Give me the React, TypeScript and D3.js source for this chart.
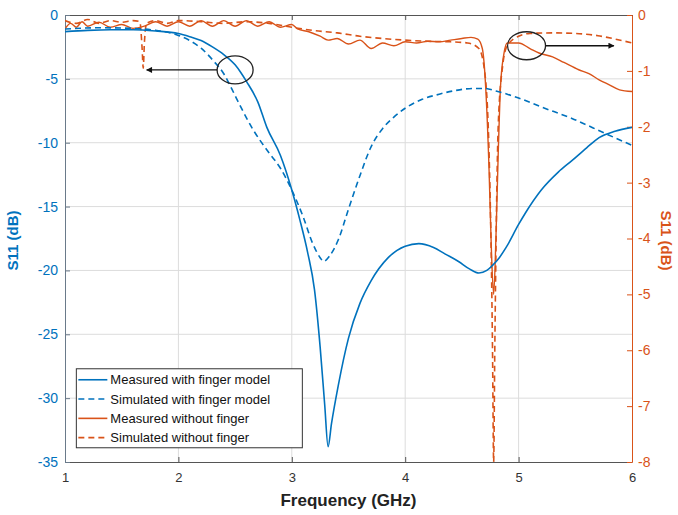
import * as d3 from "d3"
import { useEffect, useRef } from "react"

// frequency (GHz) / S11 (dB)
const measFingerF = [1.0, 1.2, 1.4, 1.6, 1.8, 2.0, 2.1, 2.2, 2.3, 2.4, 2.5, 2.55, 2.6, 2.7, 2.78, 2.9, 3.0, 3.07, 3.14, 3.2, 3.25, 3.29, 3.32, 3.35, 3.41, 3.5, 3.6, 3.7, 3.85, 4.0, 4.12, 4.25, 4.35, 4.47, 4.57, 4.65, 4.72, 4.77, 4.83, 4.89, 5.0, 5.06, 5.2, 5.35, 5.47, 5.6, 5.71, 5.85, 6.0]
const measFingerS = [-1.3, -1.2, -1.15, -1.15, -1.25, -1.45, -1.7, -2.0, -2.5, -3.1, -3.9, -4.5, -5.2, -6.8, -8.8, -11.0, -13.7, -16, -18.6, -21.5, -26, -30.5, -33.8, -32, -29, -25.3, -22.6, -20.8, -19.0, -18.1, -17.9, -18.2, -18.7, -19.3, -19.9, -20.2, -20.0, -19.6, -19, -18.2, -16.4, -15.5, -13.7, -12.3, -11.4, -10.4, -9.6, -9.1, -8.8]

const simFingerF = [1.0, 1.3, 1.6, 1.8, 2.0, 2.1, 2.2, 2.31, 2.4, 2.46, 2.55, 2.66, 2.8, 2.9, 3.01, 3.1, 3.18, 3.25, 3.28, 3.33, 3.41, 3.5, 3.6, 3.7, 3.8, 3.9, 4.0, 4.15, 4.3, 4.45, 4.6, 4.7, 4.8, 4.9, 5.0, 5.2, 5.47, 5.77, 6.0]
const simFingerS = [-1.1, -1.0, -1.05, -1.2, -1.6, -2.0, -2.6, -3.6, -4.6, -5.6, -7.2, -9.0, -10.8, -12.0, -13.9, -15.8, -17.8, -19.0, -19.3, -18.9, -17.6, -15.2, -12.6, -10.3, -8.9, -8.0, -7.3, -6.6, -6.2, -5.9, -5.75, -5.75, -5.95, -6.2, -6.5, -7.2, -8.1, -9.3, -10.2]

const measFreeF = [1.0, 1.05, 1.1, 1.15, 1.2, 1.3, 1.4, 1.5, 1.6, 1.7, 1.8, 1.9, 2.0, 2.1, 2.2, 2.3, 2.4, 2.5, 2.6, 2.7, 2.8, 2.9, 3.0, 3.05, 3.15, 3.25, 3.32, 3.4, 3.5, 3.6, 3.7, 3.8, 3.9, 4.0, 4.1, 4.2, 4.3, 4.4, 4.5, 4.58, 4.64, 4.68, 4.71, 4.74, 4.76, 4.78, 4.8, 4.82, 4.84, 4.87, 4.9, 5.0, 5.1, 5.18, 5.3, 5.4, 5.53, 5.62, 5.71, 5.8, 5.89, 6.0]
const measFreeS = [-0.25, -0.15, -0.22, -0.12, -0.2, -0.13, -0.22, -0.17, -0.24, -0.2, -0.12, -0.2, -0.12, -0.2, -0.1, -0.2, -0.1, -0.2, -0.1, -0.2, -0.12, -0.22, -0.17, -0.25, -0.3, -0.38, -0.45, -0.42, -0.52, -0.45, -0.6, -0.5, -0.55, -0.48, -0.5, -0.47, -0.48, -0.45, -0.42, -0.4, -0.43, -0.6, -1.3, -2.8, -4.2, -5.0, -4.0, -2.5, -1.3, -0.7, -0.5, -0.5, -0.6, -0.68, -0.75, -0.85, -0.98, -1.05, -1.16, -1.25, -1.34, -1.37]

const simFreeF = [1.0, 1.1, 1.2, 1.3, 1.4, 1.5, 1.6, 1.66, 1.68, 1.69, 1.7, 1.72, 1.8, 1.9, 2.0, 2.2, 2.4, 2.6, 2.8, 3.0, 3.2, 3.4, 3.6, 3.8, 4.0, 4.2, 4.4, 4.55, 4.65, 4.7, 4.74, 4.77, 4.78, 4.79, 4.82, 4.86, 4.9, 5.0, 5.1, 5.3, 5.5, 5.7, 5.85, 6.0]
const simFreeS = [-0.1, -0.15, -0.08, -0.15, -0.1, -0.13, -0.1, -0.12, -0.6, -0.95, -0.5, -0.15, -0.1, -0.15, -0.1, -0.12, -0.15, -0.12, -0.15, -0.22, -0.28, -0.32, -0.38, -0.42, -0.45, -0.47, -0.48, -0.5, -0.6, -1.0, -2.5, -6, -8, -6, -2.0, -0.9, -0.55, -0.38, -0.33, -0.32, -0.33, -0.37, -0.43, -0.5]

const xTicks = [1, 2, 3, 4, 5, 6]
const leftTicks = [0, -5, -10, -15, -20, -25, -30, -35]
const rightTicks = [0, -1, -2, -3, -4, -5, -6, -7, -8]
const legendLabels = ["Measured with finger model", "Simulated with finger model", "Measured without finger", "Simulated without finger"]

const BLUE = "#0072BD"
const ORANGE = "#D95319"

export default function App() {
  const ref = useRef<SVGSVGElement>(null)

  useEffect(() => {
    const W = 678, H = 515
    const margin = { top: 15, right: 46, bottom: 53, left: 65 }
    const width = W - margin.left - margin.right
    const height = H - margin.top - margin.bottom

    const svg = d3.select(ref.current)
    svg.selectAll("*").remove()

    const g = svg.append("g").attr("transform", `translate(${margin.left},${margin.top})`)

    const x = d3.scaleLinear().domain([1, 6]).range([0, width])
    const yL = d3.scaleLinear().domain([-35, 0]).range([height, 0])
    const yR = d3.scaleLinear().domain([-8, 0]).range([height, 0])

    // grid
    g.append("g").selectAll("line").data(xTicks.slice(1, -1)).enter().append("line")
      .attr("x1", d => x(d)).attr("x2", d => x(d)).attr("y1", 0).attr("y2", height)
      .attr("stroke", "#dcdcdc").attr("stroke-width", 1)
    g.append("g").selectAll("line").data(leftTicks.slice(1, -1)).enter().append("line")
      .attr("y1", d => yL(d)).attr("y2", d => yL(d)).attr("x1", 0).attr("x2", width)
      .attr("stroke", "#dcdcdc").attr("stroke-width", 1)

    const font = "'Liberation Sans', Arial, sans-serif"
    const fmt = (d: any) => String(d)

    // axes
    const xAxis = g.append("g").attr("transform", `translate(0,${height})`)
      .call(d3.axisBottom(x).tickValues(xTicks).tickFormat(fmt).tickSizeInner(-5).tickSizeOuter(0).tickPadding(11))
    xAxis.select(".domain").attr("stroke", "#555")
    xAxis.selectAll(".tick line").attr("stroke", "#555")
    xAxis.selectAll("text").attr("fill", "#333").style("font-family", font).style("font-size", "13px")

    const top = g.append("g").call(d3.axisTop(x).tickValues(xTicks).tickSizeInner(-5).tickSizeOuter(0).tickFormat(() => ""))
    top.select(".domain").attr("stroke", "#555")
    top.selectAll(".tick line").attr("stroke", "#555")

    const lAxis = g.append("g")
      .call(d3.axisLeft(yL).tickValues(leftTicks).tickFormat(fmt).tickSizeInner(-5).tickSizeOuter(0).tickPadding(7))
    lAxis.select(".domain").attr("stroke", "#6a7a8a")
    lAxis.selectAll(".tick line").attr("stroke", "#6a7a8a")
    lAxis.selectAll("text").attr("fill", BLUE).style("font-family", font).style("font-size", "14px")

    const rAxis = g.append("g").attr("transform", `translate(${width},0)`)
      .call(d3.axisRight(yR).tickValues(rightTicks).tickFormat(fmt).tickSizeInner(-5).tickSizeOuter(0).tickPadding(6))
    rAxis.select(".domain").attr("stroke", ORANGE)
    rAxis.selectAll(".tick line").attr("stroke", ORANGE)
    rAxis.selectAll("text").attr("fill", ORANGE).style("font-family", font).style("font-size", "14px")

    // curves
    g.append("clipPath").attr("id", "plotclip").append("rect")
      .attr("x", 0).attr("y", 0).attr("width", width).attr("height", height + 1)
    const plot = g.append("g").attr("clip-path", "url(#plotclip)")

    const lineL = d3.line<[number, number]>().x(d => x(d[0])).y(d => yL(d[1])).curve(d3.curveMonotoneX)
    const lineR = d3.line<[number, number]>().x(d => x(d[0])).y(d => yR(d[1])).curve(d3.curveMonotoneX)

    const zip = (a: number[], b: number[]) => a.map((v, i) => [v, b[i]] as [number, number])

    plot.append("path").datum(zip(simFreeF, simFreeS)).attr("d", lineR)
      .attr("fill", "none").attr("stroke", ORANGE).attr("stroke-width", 1.6).attr("stroke-dasharray", "6,4")
    plot.append("path").datum(zip(measFreeF, measFreeS)).attr("d", lineR)
      .attr("fill", "none").attr("stroke", ORANGE).attr("stroke-width", 1.4)
    plot.append("path").datum(zip(simFingerF, simFingerS)).attr("d", lineL)
      .attr("fill", "none").attr("stroke", BLUE).attr("stroke-width", 1.6).attr("stroke-dasharray", "6,4")
    plot.append("path").datum(zip(measFingerF, measFingerS)).attr("d", lineL)
      .attr("fill", "none").attr("stroke", BLUE).attr("stroke-width", 1.6)

    // annotation ellipses + arrows
    const defs = svg.append("defs")
    defs.append("marker").attr("id", "arrowhead").attr("viewBox", "0 0 10 10")
      .attr("refX", 9).attr("refY", 5).attr("markerWidth", 9).attr("markerHeight", 6)
      .attr("markerUnits", "userSpaceOnUse").attr("orient", "auto")
      .append("path").attr("d", "M0,0 L10,5 L0,10 z").attr("fill", "#111")

    g.append("ellipse").attr("cx", x(2.5)).attr("cy", yL(-4.3)).attr("rx", 18).attr("ry", 14)
      .attr("fill", "none").attr("stroke", "#222").attr("stroke-width", 1.3)
    g.append("line").attr("x1", x(2.5) - 18).attr("y1", yL(-4.3)).attr("x2", x(1.72)).attr("y2", yL(-4.3))
      .attr("stroke", "#111").attr("stroke-width", 1.3).attr("marker-end", "url(#arrowhead)")

    g.append("ellipse").attr("cx", x(5.07)).attr("cy", yR(-0.55)).attr("rx", 19).attr("ry", 14)
      .attr("fill", "none").attr("stroke", "#222").attr("stroke-width", 1.3)
    g.append("line").attr("x1", x(5.07) + 19).attr("y1", yR(-0.55)).attr("x2", x(5.84)).attr("y2", yR(-0.55))
      .attr("stroke", "#111").attr("stroke-width", 1.3).attr("marker-end", "url(#arrowhead)")

    // legend
    const leg = g.append("g").attr("transform", `translate(${x(1.1)},${yL(-27.7)})`)
    leg.append("rect").attr("width", 226).attr("height", 79)
      .attr("fill", "white").attr("stroke", "#333").attr("stroke-width", 1)
    const styles = [
      { c: BLUE, dash: null },
      { c: BLUE, dash: "6,4" },
      { c: ORANGE, dash: null },
      { c: ORANGE, dash: "6,4" },
    ]
    legendLabels.forEach((lab, i) => {
      const yy = 11 + i * 19.3
      leg.append("line").attr("x1", 2).attr("x2", 31).attr("y1", yy).attr("y2", yy)
        .attr("stroke", styles[i].c).attr("stroke-width", 1.6)
        .attr("stroke-dasharray", styles[i].dash)
      leg.append("text").attr("x", 34).attr("y", yy + 4.5).text(lab)
        .attr("fill", "#111").style("font-family", font).style("font-size", "13px")
    })

    // axis titles
    svg.append("text").attr("x", margin.left + width / 2).attr("y", 506).attr("text-anchor", "middle")
      .text("Frequency (GHz)").attr("fill", "#222").style("font-family", font).style("font-size", "17px").style("font-weight", "bold")
    svg.append("text").attr("transform", `translate(18,${margin.top + height / 2 + 2}) rotate(-90)`).attr("text-anchor", "middle")
      .text("S11 (dB)").attr("fill", BLUE).style("font-family", font).style("font-size", "15px").style("font-weight", "bold")
    svg.append("text").attr("transform", `translate(661,${margin.top + height / 2 + 2}) rotate(90)`).attr("text-anchor", "middle")
      .text("S11 (dB)").attr("fill", ORANGE).style("font-family", font).style("font-size", "15px").style("font-weight", "bold")
  }, [])

  return (
    <svg ref={ref} width={678} height={515}
      style={{ position: "absolute", left: 0, top: 0, background: "white", display: "block" }} />
  )
}
